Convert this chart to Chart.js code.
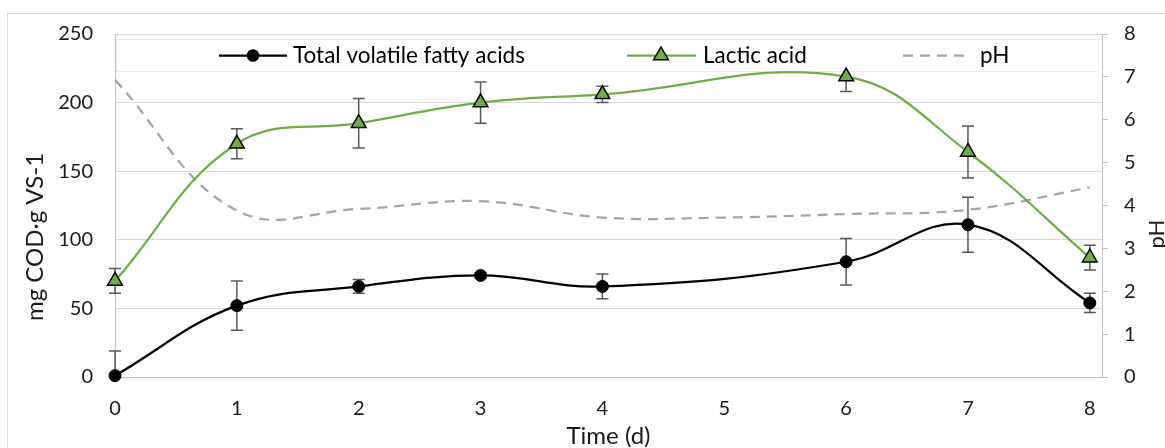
<!DOCTYPE html>
<html>
<head>
<meta charset="utf-8">
<script src="https://cdn.jsdelivr.net/npm/chart.js@4.4.1/dist/chart.umd.min.js"></script>
<style>
  body { margin: 0; background: #fff; }
  #wrap { position: relative; width: 1165px; height: 448px; overflow: hidden; }
  #frame { position: absolute; left: 7px; top: 13px; width: 1200px; height: 500px; border: 1px solid #d9d9d9; pointer-events: none; }
</style>
</head>
<body>
<div id="wrap">
  <canvas id="grafico" width="1165" height="448"></canvas>
  <div id="frame"></div>
</div>
<script>
// Dados
const dias = [0, 1, 2, 3, 4, 5, 6, 7, 8];
const agv = [1, 52, 66, 74, 66, null, 84, 111, 54];
const agvErro = [18, 18, 5, 2, 9, null, 17, 20, 7];
const lactico = [70, 170, 185, 200, 206, null, 219, 164, 87];
const lacticoErro = [9, 11, 18, 15, 6, null, 11, 19, 9];
const ph = [6.93, 3.88, 3.92, 4.1, 3.72, 3.72, 3.8, 3.9, 4.42];
const ticksX = [0, 1, 2, 3, 4, 5, 6, 7, 8];
const ticksEsq = [0, 50, 100, 150, 200, 250];
const ticksDir = [0, 1, 2, 3, 4, 5, 6, 7, 8];

const VERDE = '#70AD47';
const CINZA = '#A5A5A5';
const FONTE = 'Lato, "Open Sans", sans-serif';

function pontos(valores) {
    const out = [];
    for (let i = 0; i < dias.length; i++) {
        if (valores[i] !== null) out.push({ x: dias[i], y: valores[i] });
    }
    return out;
}

Chart.defaults.font.family = FONTE;
Chart.defaults.font.size = 20;
Chart.defaults.color = '#1a1a1a';

function tituloVertical(ctx, texto, x, y, tamanho) {
    ctx.save();
    ctx.font = tamanho + 'px ' + FONTE;
    ctx.fillStyle = '#1a1a1a';
    ctx.textAlign = 'center';
    ctx.textBaseline = 'middle';
    ctx.translate(x, y);
    ctx.rotate(-Math.PI / 2);
    ctx.fillText(texto, 0, 0);
    ctx.restore();
}

// barras de erro + legenda (antes dos marcadores)
const extras = {
    id: 'extras',
    beforeDatasetsDraw(chart) {
        const ctx = chart.ctx;
        const area = chart.chartArea;
        const sx = chart.scales.x;
        const sy = chart.scales.y;

        ctx.save();
        ctx.beginPath();
        ctx.rect(area.left - 10, area.top, area.right - area.left + 20, area.bottom - area.top);
        ctx.clip();
        ctx.strokeStyle = '#595959';
        ctx.lineWidth = 1.5;
        [[agv, agvErro], [lactico, lacticoErro]].forEach(([vals, errs]) => {
            for (let i = 0; i < dias.length; i++) {
                if (vals[i] === null || !errs[i]) continue;
                const px = sx.getPixelForValue(dias[i]);
                const top = sy.getPixelForValue(vals[i] + errs[i]);
                const bot = sy.getPixelForValue(vals[i] - errs[i]);
                ctx.beginPath();
                ctx.moveTo(px, top); ctx.lineTo(px, bot);
                ctx.moveTo(px - 6, top); ctx.lineTo(px + 6, top);
                ctx.moveTo(px - 6, bot); ctx.lineTo(px + 6, bot);
                ctx.stroke();
            }
        });
        ctx.restore();

        // legenda
        ctx.save();
        const lx = area.left + 1, ly = area.top + 5, lw = area.right - area.left - 4, lh = 33;
        ctx.fillStyle = '#fff';
        ctx.fillRect(lx, ly, lw, lh);
        ctx.strokeStyle = '#ececec';
        ctx.lineWidth = 1;
        ctx.strokeRect(lx + 0.5, ly + 0.5, lw - 1, lh - 1);
        const cy = ly + lh / 2;
        ctx.font = '22.5px ' + FONTE;
        ctx.textBaseline = 'middle';
        ctx.fillStyle = '#000';

        ctx.lineWidth = 2.25;
        ctx.strokeStyle = '#000';
        ctx.beginPath(); ctx.moveTo(area.left + 104, cy); ctx.lineTo(area.left + 172, cy); ctx.stroke();
        ctx.beginPath(); ctx.arc(area.left + 138, cy, 6.3, 0, Math.PI * 2); ctx.fillStyle = '#000'; ctx.fill();
        ctx.fillText('Total volatile fatty acids', area.left + 178, cy);

        ctx.strokeStyle = VERDE;
        ctx.beginPath(); ctx.moveTo(area.left + 512, cy); ctx.lineTo(area.left + 581, cy); ctx.stroke();
        const tx = area.left + 546, r = 8.5;
        ctx.beginPath();
        ctx.moveTo(tx, cy - r);
        ctx.lineTo(tx + r * 0.866, cy + r / 2);
        ctx.lineTo(tx - r * 0.866, cy + r / 2);
        ctx.closePath();
        ctx.fillStyle = VERDE; ctx.fill();
        ctx.lineWidth = 1.5; ctx.strokeStyle = '#000'; ctx.stroke();
        ctx.fillStyle = '#000';
        ctx.fillText('Lactic acid', area.left + 588, cy);

        ctx.strokeStyle = CINZA;
        ctx.lineWidth = 2.25;
        ctx.setLineDash([10, 7]);
        ctx.beginPath(); ctx.moveTo(area.left + 788, cy); ctx.lineTo(area.left + 853, cy); ctx.stroke();
        ctx.setLineDash([]);
        ctx.fillText('pH', area.left + 865, cy);
        ctx.restore();

        // títulos dos eixos verticais
        tituloVertical(ctx, 'mg COD·g VS-1', 35, 237, 24);
        tituloVertical(ctx, 'pH', 1157, 234, 22);
    }
};

const ctx = document.getElementById('grafico').getContext('2d');
const grafico = new Chart(ctx, {
    type: 'line',
    data: {
        datasets: [
            {
                label: 'pH',
                data: pontos(ph),
                yAxisID: 'y2',
                borderColor: CINZA,
                borderWidth: 2.25,
                borderDash: [10, 7],
                pointRadius: 0,
                tension: 0.4,
                clip: false,
                order: 3
            },
            {
                label: 'Lactic acid',
                data: pontos(lactico),
                yAxisID: 'y',
                borderColor: VERDE,
                borderWidth: 2.25,
                pointStyle: 'triangle',
                pointRadius: 8.5,
                pointBackgroundColor: VERDE,
                pointBorderColor: '#000',
                pointBorderWidth: 1.5,
                tension: 0.4,
                clip: false,
                order: 2
            },
            {
                label: 'Total volatile fatty acids',
                data: pontos(agv),
                yAxisID: 'y',
                borderColor: '#000',
                borderWidth: 2.25,
                pointStyle: 'circle',
                pointRadius: 6,
                pointBackgroundColor: '#000',
                pointBorderColor: '#000',
                pointBorderWidth: 1,
                tension: 0.4,
                clip: false,
                order: 1
            }
        ]
    },
    options: {
        responsive: false,
        animation: false,
        devicePixelRatio: 1,
        layout: { padding: { top: 33, left: 0, right: 0, bottom: 0 } },
        plugins: {
            legend: { display: false },
            tooltip: { enabled: false }
        },
        scales: {
            x: {
                type: 'linear',
                min: 0,
                max: 8.1,
                afterBuildTicks: s => { s.ticks = ticksX.map(v => ({ value: v })); },
                afterFit: s => { s.height = 71; },
                grid: { display: false, drawTicks: false },
                border: { display: true, color: '#bfbfbf', width: 1 },
                ticks: { padding: 20, maxRotation: 0, font: { size: 20 } },
                title: { display: true, text: 'Time (d)', padding: { top: 0, bottom: 0 }, font: { family: FONTE, size: 24, lineHeight: 0.95 } }
            },
            y: {
                position: 'left',
                min: 0,
                max: 250,
                afterBuildTicks: s => { s.ticks = ticksEsq.map(v => ({ value: v })); },
                afterFit: s => { s.width = 115; },
                grid: { color: '#d9d9d9', drawTicks: false },
                border: { display: true, color: '#bfbfbf' },
                ticks: { padding: 22, font: { size: 20 } }
            },
            y2: {
                position: 'right',
                min: 0,
                max: 8,
                afterBuildTicks: s => { s.ticks = ticksDir.map(v => ({ value: v })); },
                afterFit: s => { s.width = 63; },
                grid: { drawOnChartArea: false, drawTicks: true, tickLength: 6, color: '#bfbfbf' },
                border: { display: true, color: '#bfbfbf' },
                ticks: { padding: 16, font: { size: 20 } }
            }
        }
    },
    plugins: [extras]
});
</script>
</body>
</html>
